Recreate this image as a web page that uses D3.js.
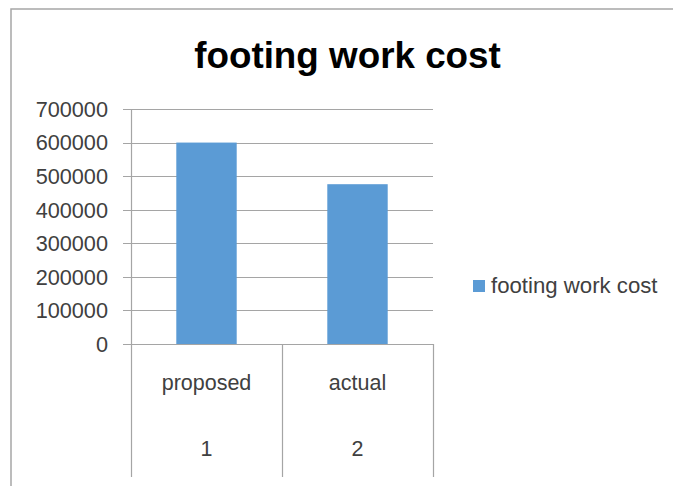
<!DOCTYPE html>
<html>
<head>
<meta charset="utf-8">
<script src="https://cdn.jsdelivr.net/npm/d3@7"></script>
<style>
  html, body { margin: 0; padding: 0; background: #fff; }
  svg { display: block; }
</style>
</head>
<body>
<svg id="chart" width="673" height="486"></svg>
<script>
const title = "footing work cost";
const seriesName = "footing work cost";
const categories = ["proposed", "actual"];
const categoryIndex = ["1", "2"];
const values = [600000, 476000];
const yTicks = [0, 100000, 200000, 300000, 400000, 500000, 600000, 700000];

const W = 673, H = 486;
const font = "'Liberation Sans', Arial, sans-serif";
const svg = d3.select("#chart");

// chart border
svg.append("rect")
  .attr("x", 11).attr("y", 9)
  .attr("width", W).attr("height", H)
  .attr("fill", "none").attr("stroke", "#a6a6a6").attr("stroke-width", 1.5);

const plot = { left: 131, right: 433, top: 109, bottom: 344 };
const x = d3.scaleBand().domain(categories).range([plot.left, plot.right]).padding(0);
const y = d3.scaleLinear().domain([0, 700000]).range([plot.bottom, plot.top]);
const gridColor = "#a5a5a5";

// gridlines
svg.append("g").selectAll("line").data(yTicks).join("line")
  .attr("x1", plot.left - 8).attr("x2", plot.right)
  .attr("y1", d => Math.round(y(d)) + 0.5).attr("y2", d => Math.round(y(d)) + 0.5)
  .attr("stroke", gridColor).attr("stroke-width", 1.2);

// y tick labels
svg.append("g").selectAll("text").data(yTicks).join("text")
  .attr("x", 108).attr("y", d => y(d))
  .attr("dy", "0.36em")
  .attr("text-anchor", "end")
  .attr("font-family", font).attr("font-size", 21.7)
  .attr("fill", "#404040")
  .text(d => d3.format("d")(d));

// bars
const barW = x.bandwidth() * 0.4;
svg.append("g").selectAll("rect").data(categories).join("rect")
  .attr("x", d => x(d) + (x.bandwidth() - barW) / 2)
  .attr("y", (d, i) => y(values[i]))
  .attr("width", barW)
  .attr("height", (d, i) => y(0) - y(values[i]))
  .attr("fill", "#5b9bd5");

// category axis: vertical separators
const seps = [plot.left, ...categories.map(c => x(c) + x.bandwidth())];
svg.append("g").selectAll("line").data(seps).join("line")
  .attr("x1", d => Math.round(d) + 0.5).attr("x2", d => Math.round(d) + 0.5)
  .attr("y1", d => d === plot.left ? plot.top : plot.bottom).attr("y2", 477)
  .attr("stroke", gridColor).attr("stroke-width", 1.2);

// category labels
svg.append("g").selectAll("text").data(categories).join("text")
  .attr("x", d => x(d) + x.bandwidth() / 2).attr("y", 390)
  .attr("text-anchor", "middle")
  .attr("font-family", font).attr("font-size", 21.5)
  .attr("fill", "#404040")
  .text(d => d);
svg.append("g").selectAll("text").data(categories).join("text")
  .attr("x", d => x(d) + x.bandwidth() / 2).attr("y", 456)
  .attr("text-anchor", "middle")
  .attr("font-family", font).attr("font-size", 21.5)
  .attr("fill", "#404040")
  .text((d, i) => categoryIndex[i]);

// title
svg.append("text")
  .attr("x", 347.5).attr("y", 68)
  .attr("text-anchor", "middle")
  .attr("font-family", font).attr("font-weight", "bold").attr("font-size", 36.8)
  .attr("fill", "#000")
  .text(title);

// legend
svg.append("rect")
  .attr("x", 473).attr("y", 280).attr("width", 12).attr("height", 12)
  .attr("fill", "#5b9bd5");
svg.append("text")
  .attr("x", 491).attr("y", 293)
  .attr("font-family", font).attr("font-size", 22.2)
  .attr("fill", "#404040")
  .text(seriesName);
</script>
</body>
</html>
